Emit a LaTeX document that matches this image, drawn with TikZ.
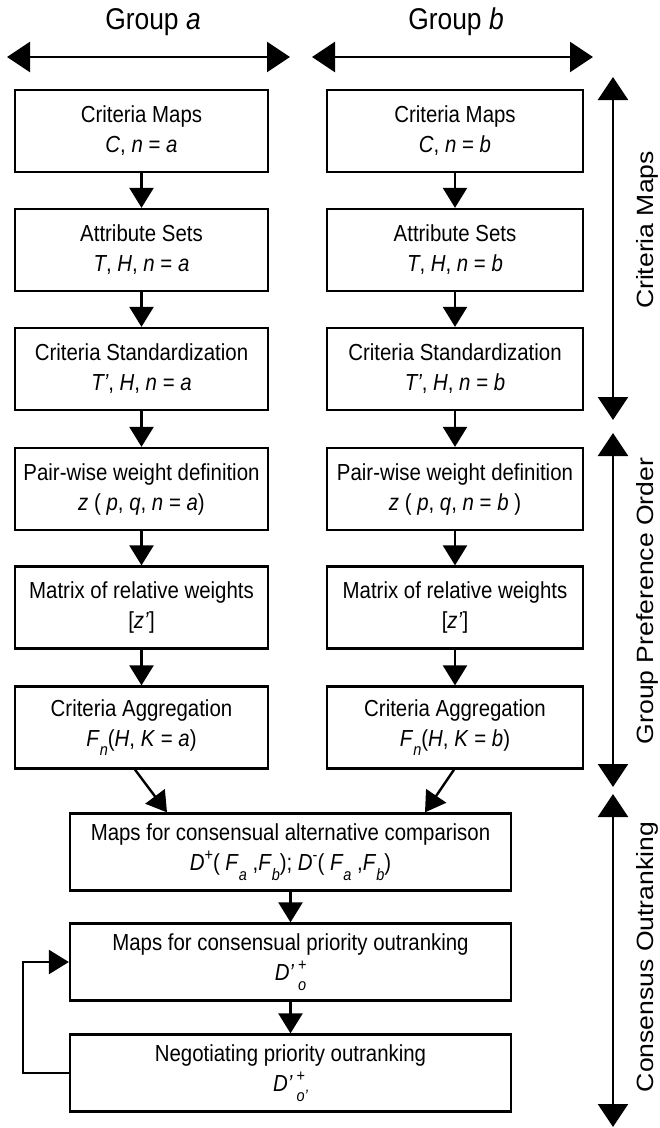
\documentclass[tikz,border=0pt]{standalone}
\usepackage{fontspec}
\setmainfont[FakeStretch=0.88]{Liberation Sans}
\newfontfamily\rotfont[FakeStretch=1.13]{Liberation Sans}
\usetikzlibrary{arrows.meta}
\newcommand\lsub[1]{\raisebox{-0.42em}{\fontsize{16.5}{16.5}\selectfont\itshape #1}}
\newcommand\lsup[1]{\raisebox{0.45em}{\fontsize{16.5}{16.5}\selectfont #1}}
\begin{document}
\begin{tikzpicture}[x=1pt,y=-1pt,
 box/.style={draw, line width=2.3pt, minimum height=82pt, align=center, inner sep=0pt, font=\fontsize{23.2}{30}\selectfont},
 lbox/.style={box, minimum width=253pt},
 rbox/.style={box, minimum width=256pt},
 widebox/.style={box, minimum width=441pt, minimum height=77pt},
 flow/.style={line width=2.4pt, -{Triangle[width=24pt,length=20pt]}},
 spanarrow/.style={line width=2.4pt, {Triangle[width=30pt,length=23pt]}-{Triangle[width=30pt,length=23pt]}},
 hdr/.style={font=\fontsize{30}{32}\selectfont},
 vlabel/.style={rotate=90, font=\rotfont\fontsize{23.5}{26}\selectfont},
]
\useasboundingbox (0,0) rectangle (660,1128);
% headers
\node[hdr] (hga) at (153,22) {Group \textit{a}};
\node[hdr] (hgb) at (456,22) {Group \textit{b}};
\coordinate (ga1) at (7,57); \coordinate (ga2) at (290,57);
\coordinate (gb1) at (312,57); \coordinate (gb2) at (593,57);
\draw[spanarrow] (ga1) -- (ga2);
\draw[spanarrow] (gb1) -- (gb2);
% left column
\node[lbox] (l1) at (141.5,131) {Criteria Maps\\\textit{C}, \textit{n} = \textit{a}};
\node[lbox] (l2) at (141.5,250) {Attribute Sets\\\textit{T}, \textit{H}, \textit{n} = \textit{a}};
\node[lbox] (l3) at (141.5,369) {Criteria Standardization\\\textit{T'}, \textit{H}, \textit{n} = \textit{a}};
\node[lbox] (l4) at (141.5,489) {Pair-wise weight definition\\\textit{z} ( \textit{p}, \textit{q}, \textit{n} = \textit{a})};
\node[lbox] (l5) at (141.5,607.5) {Matrix of relative weights\\{[}\textit{z'}{]}};
\node[lbox] (l6) at (141.5,727.5) {Criteria Aggregation\\\textit{F}\lsub{n}(\textit{H}, \textit{K} = \textit{a})};
% right column
\node[rbox] (r1) at (455,131) {Criteria Maps\\\textit{C}, \textit{n} = \textit{b}};
\node[rbox] (r2) at (455,250) {Attribute Sets\\\textit{T}, \textit{H}, \textit{n} = \textit{b}};
\node[rbox] (r3) at (455,369) {Criteria Standardization\\\textit{T'}, \textit{H}, \textit{n} = \textit{b}};
\node[rbox] (r4) at (455,489) {Pair-wise weight definition\\\textit{z} ( \textit{p}, \textit{q}, \textit{n} = \textit{b} )};
\node[rbox] (r5) at (455,607.5) {Matrix of relative weights\\{[}\textit{z'}{]}};
\node[rbox] (r6) at (455,727.5) {Criteria Aggregation\\\textit{F}\lsub{n}(\textit{H}, \textit{K} = \textit{b})};
% bottom
\node[widebox] (maps) at (290.5,852) {Maps for consensual alternative comparison\\\textit{D}\lsup{+}( \textit{F}\lsub{a} ,\textit{F}\lsub{b}); \textit{D}\lsup{-}( \textit{F}\lsub{a} ,\textit{F}\lsub{b})};
\node[widebox] (pri) at (290.5,962) {Maps for consensual priority outranking\\\textit{D'}\,\rlap{\lsup{+}}\lsub{o}};
\node[widebox] (neg) at (290.5,1073) {Negotiating priority outranking\\\textit{D'}\,\rlap{\lsup{+}}\lsub{o'}};
% flows
\foreach \a/\b in {l1/l2,l2/l3,l3/l4,l4/l5,l5/l6,r1/r2,r2/r3,r3/r4,r4/r5,r5/r6,maps/pri,pri/neg}
  \draw[flow] (\a) -- (\b);
\draw[flow] ([xshift=-6.5pt]l6.south) -- ([xshift=-123.5pt]maps.north);
\draw[flow] ([xshift=-1pt]r6.south) -- ([xshift=134.5pt]maps.north);
\coordinate (loop) at (23,1010);
\draw[flow] (neg.west) -| (loop) |- (pri.west);
% right spans
\coordinate (s1) at (613,77); \coordinate (s2) at (613,420);
\coordinate (s3) at (613,433); \coordinate (s4) at (613,787);
\coordinate (s5) at (613,794); \coordinate (s6) at (613,1127);
\draw[spanarrow] (s1) -- (s2);
\draw[spanarrow] (s3) -- (s4);
\draw[spanarrow] (s5) -- (s6);
\node[vlabel] (lcm) at (647,230) {Criteria Maps};
\node[vlabel] (lgp) at (647,601) {Group Preference Order};
\node[vlabel] (lco) at (647,957) {Consensus Outranking};
\end{tikzpicture}
\end{document}
